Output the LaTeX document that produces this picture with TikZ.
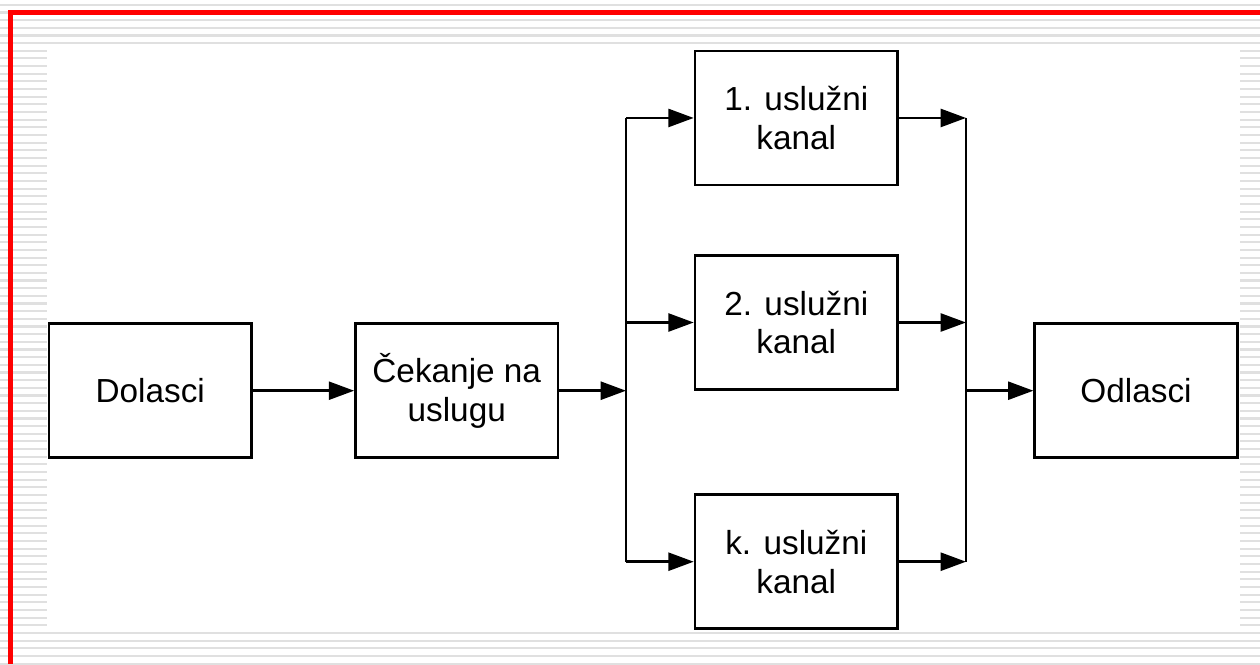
\documentclass[tikz,border=0pt]{standalone}
\usepackage{fontspec}
\setmainfont{Liberation Sans}
\usepackage{tikz}
\usetikzlibrary{arrows.meta, positioning}

\definecolor{framered}{RGB}{255,0,0}
\definecolor{stripegray}{RGB}{224,224,224}

\begin{document}
\begin{tikzpicture}[x=0.75pt, y=-0.75pt,
	block/.style = {draw, line width=1.9pt, minimum width=152pt, minimum height=100.5pt,
		inner sep=0pt, align=center, font=\fontsize{25}{29}\selectfont},
	flow/.style = {-{Triangle[length=19pt, width=13.5pt]}, line width=1.9pt},
	bus/.style = {line width=1.9pt},
	stripe/.style = {stripegray, line width=1.6pt},
]
\useasboundingbox (0,0) rectangle (1260,664);

% striped slide background with white panel
\foreach \i in {0,...,86}
	\draw [stripe] (0,4.8+7.66*\i) -- (1260,4.8+7.66*\i);
\fill [white] (47,48) rectangle (1240,632);
\draw [framered, line width=3.75pt, line join=miter] (10.5,664) -- (10.5,12.5) -- (1260,12.5);

	\node (dol) [block] at (150.2,390.7) {Dolasci};
	\node (cek) [block, right = 76pt of dol] {Čekanje na\\uslugu};
	\node (k2) [block] at (796.3,322.5) {2. uslužni\\kanal};
	\node (k1) [block, above = 51pt of k2] {1. uslužni\\kanal};
	\node (kk) [block, below = 77pt of k2] {k. uslužni\\kanal};
	\node (odl) [block] at (1136,390.7) {Odlasci};

	\coordinate (split) at (626,390.7);
	\coordinate (merge) at (966,390.7);

\draw [bus] (split |- k1) -- (split |- kk);
\draw [bus] (merge |- k1) -- (merge |- kk);

\path [flow]
	(dol) edge (cek)
	(cek) edge (split)
	(split |- k1) edge (k1)
	(split |- k2) edge (k2)
	(split |- kk) edge (kk)
	(k1) edge (merge |- k1)
	(k2) edge (merge |- k2)
	(kk) edge (merge |- kk)
	(merge) edge (odl);
\end{tikzpicture}
\end{document}
